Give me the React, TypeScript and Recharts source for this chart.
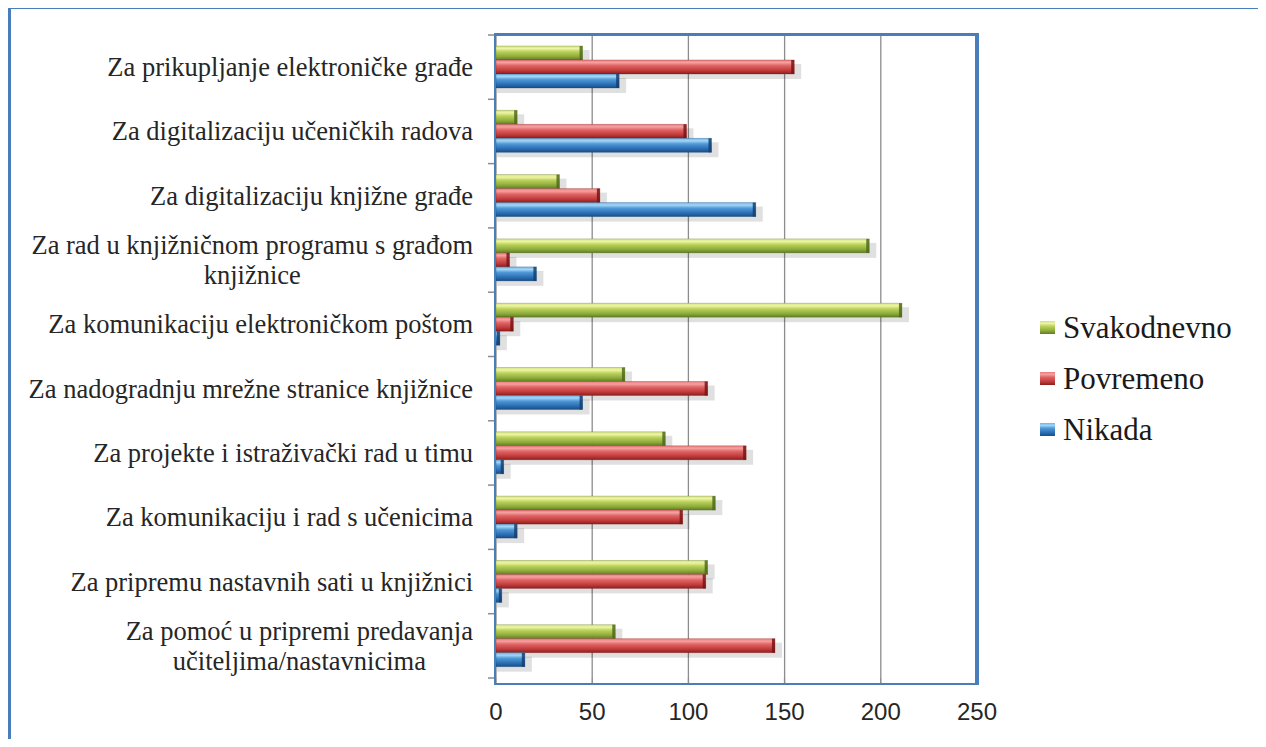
import { BarChart, Bar, XAxis, YAxis, CartesianGrid, Legend } from 'recharts';

const categories = [
  'Za prikupljanje elektroničke građe',
  'Za digitalizaciju učeničkih radova',
  'Za digitalizaciju knjižne građe',
  'Za rad u knjižničnom programu s građom\nknjižnice',
  'Za komunikaciju elektroničkom poštom',
  'Za nadogradnju mrežne stranice knjižnice',
  'Za projekte i istraživački rad u timu',
  'Za komunikaciju i rad s učenicima',
  'Za pripremu nastavnih sati u knjižnici',
  'Za pomoć u pripremi predavanja\nučiteljima/nastavnicima',
];
const seriesNames = ['Svakodnevno', 'Povremeno', 'Nikada'];
const svakodnevno = [45, 11, 33, 194, 211, 67, 88, 114, 110, 62];
const povremeno = [155, 99, 54, 7, 9, 110, 130, 97, 109, 145];
const nikada = [64, 112, 135, 21, 2, 45, 4, 11, 3, 15];
const xTicks = [0, 50, 100, 150, 200, 250];

const data = categories.map((name, i) => ({
  name,
  svakodnevno: svakodnevno[i],
  povremeno: povremeno[i],
  nikada: nikada[i],
}));

const FRAME = '#4a7ebb';
const SERIF = "'Liberation Serif', 'Times New Roman', serif";
const LABEL_SIZE = 26.5;

let ctx: CanvasRenderingContext2D | null = null;
function textWidth(t: string) {
  if (!ctx) ctx = document.createElement('canvas').getContext('2d');
  if (!ctx) return t.length * 11;
  ctx.font = `${LABEL_SIZE}px ${SERIF}`;
  return ctx.measureText(t).width;
}

function CategoryTick(props: any) {
  const { x, y, payload, index, visibleTicksCount } = props;
  const lines = String(payload.value).split('\n');
  const style = { fontFamily: SERIF, fontSize: LABEL_SIZE, fill: '#262626' };
  const half = payload.offset || 0;
  // small marks at the category boundaries, left of the axis
  const ax = x + 23;
  const marks = half > 0 ? (
    <g stroke="#8c8c8c" strokeWidth={1.5}>
      <line x1={ax - 8} x2={ax} y1={y - half} y2={y - half} />
      {index === visibleTicksCount - 1 && <line x1={ax - 8} x2={ax} y1={y + half} y2={y + half} />}
    </g>
  ) : null;
  if (lines.length === 1) {
    return (
      <g>
        {marks}
        <text x={x} y={y} dy="0.34em" textAnchor="end" style={style}>
          {lines[0]}
        </text>
      </g>
    );
  }
  const cx = x - textWidth(lines[0]) / 2;
  const y0 = y - ((lines.length - 1) * 30) / 2;
  return (
    <g>
      {marks}
      <text x={cx} y={y0} textAnchor="middle" style={style}>
        {lines.map((l, i) => (
          <tspan key={i} x={cx} dy={i === 0 ? '0.34em' : 30}>
            {l}
          </tspan>
        ))}
      </text>
    </g>
  );
}

const makeShape = (grad: string, dark: string) => (props: any) => {
  const { x, y, width, height } = props;
  if (!width || width <= 0) return <g />;
  return (
    <g>
      <rect x={x + 1} y={y + 4} width={width + 6} height={height + 1} fill="#000" opacity={0.12} />
      <rect x={x} y={y} width={width} height={height} fill={`url(#${grad})`} />
      <rect x={x} y={y} width={width} height={height} fill="none" stroke={dark} strokeOpacity={0.35} strokeWidth={0.8} />
      <rect x={x + width - 3} y={y} width={3} height={height} fill={dark} opacity={0.85} />
    </g>
  );
};

const legendIcons: Record<string, string> = {
  Svakodnevno: 'gGreen',
  Povremeno: 'gRed',
  Nikada: 'gBlue',
};

function LegendContent(props: any) {
  const items = [...(props.payload || [])].sort(
    (a: any, b: any) => seriesNames.indexOf(a.value) - seriesNames.indexOf(b.value)
  );
  return (
    <div style={{ fontFamily: SERIF, fontSize: 31, color: '#1a1a1a' }}>
      {items.map((entry: any) => (
        <div key={entry.value} style={{ display: 'flex', alignItems: 'center', height: 51 }}>
          <svg width={16} height={14} style={{ marginRight: 7 }}>
            <rect x={0} y={0} width={15} height={13} fill={`url(#${legendIcons[entry.value]})`} />
          </svg>
          <span>{entry.value}</span>
        </div>
      ))}
    </div>
  );
}

export default function App() {
  return (
    <div style={{ position: 'relative', width: 1266, height: 747, margin: -8, overflow: 'hidden', background: '#fff' }}>
      <div
        style={{
          position: 'absolute',
          left: 6,
          top: 6,
          width: 1266 - 6,
          height: 800,
          boxSizing: 'border-box',
          borderLeft: `5px solid ${FRAME}`,
          borderTop: `3px solid ${FRAME}`,
          borderRight: `4px solid ${FRAME}`,
        }}
      />
      <div style={{ position: 'absolute', left: 0, top: 0 }}>
        <BarChart
          width={1266}
          height={747}
          data={data}
          layout="vertical"
          margin={{ top: 35, right: 289, bottom: 24, left: 0 }}
          barSize={14}
          barGap={0}
        >
          <defs>
            <linearGradient id="gGreen" x1="0" y1="0" x2="0" y2="1">
              <stop offset="0" stopColor="#d2e07e" />
              <stop offset="0.18" stopColor="#eef5a6" />
              <stop offset="0.4" stopColor="#bcd25c" />
              <stop offset="0.75" stopColor="#8cab3a" />
              <stop offset="1" stopColor="#5f7c24" />
            </linearGradient>
            <linearGradient id="gRed" x1="0" y1="0" x2="0" y2="1">
              <stop offset="0" stopColor="#ea7a7a" />
              <stop offset="0.18" stopColor="#f6a0a0" />
              <stop offset="0.4" stopColor="#e06464" />
              <stop offset="0.75" stopColor="#c03a3a" />
              <stop offset="1" stopColor="#8c1e1e" />
            </linearGradient>
            <linearGradient id="gBlue" x1="0" y1="0" x2="0" y2="1">
              <stop offset="0" stopColor="#6fb3e6" />
              <stop offset="0.18" stopColor="#a4d6f6" />
              <stop offset="0.4" stopColor="#4f98d6" />
              <stop offset="0.75" stopColor="#2a6db2" />
              <stop offset="1" stopColor="#1a4d86" />
            </linearGradient>
          </defs>
          <CartesianGrid yAxisId="cat" horizontal={false} stroke="#8c8c8c" strokeWidth={1.3} />
          <XAxis
            type="number"
            domain={[0, 250]}
            ticks={xTicks}
            axisLine={false}
            tickLine={{ stroke: '#8c8c8c', strokeWidth: 1.5 }}
            tickSize={7}
            tickMargin={18}
            height={45}
            tick={{ fill: '#262626', fontSize: 24, fontFamily: "'Liberation Sans', Arial, sans-serif" }}
          />
          <YAxis
            yAxisId="cat"
            type="category"
            dataKey="name"
            width={496}
            axisLine={false}
            tickLine={false}
            tickSize={0}
            tickMargin={23}
            interval={0}
            tick={<CategoryTick />}
          />
          <Legend
            layout="vertical"
            align="center"
            verticalAlign="middle"
            wrapperStyle={{ left: 1040, top: 302, width: 220 }}
            content={<LegendContent />}
          />
          <Bar yAxisId="cat" dataKey="svakodnevno" name={seriesNames[0]} fill="url(#gGreen)" shape={makeShape('gGreen', '#4f6a1c')} isAnimationActive={false} />
          <Bar yAxisId="cat" dataKey="povremeno" name={seriesNames[1]} fill="url(#gRed)" shape={makeShape('gRed', '#7a1414')} isAnimationActive={false} />
          <Bar yAxisId="cat" dataKey="nikada" name={seriesNames[2]} fill="url(#gBlue)" shape={makeShape('gBlue', '#153f70')} isAnimationActive={false} />
        </BarChart>
      </div>
      <div
        style={{
          position: 'absolute',
          left: 494,
          top: 33,
          width: 485,
          height: 652,
          boxSizing: 'border-box',
          borderTop: `3px solid ${FRAME}`,
          borderRight: `4px solid ${FRAME}`,
          borderBottom: `2px solid ${FRAME}`,
          borderLeft: `2px solid ${FRAME}`,
          pointerEvents: 'none',
        }}
      />
    </div>
  );
}
